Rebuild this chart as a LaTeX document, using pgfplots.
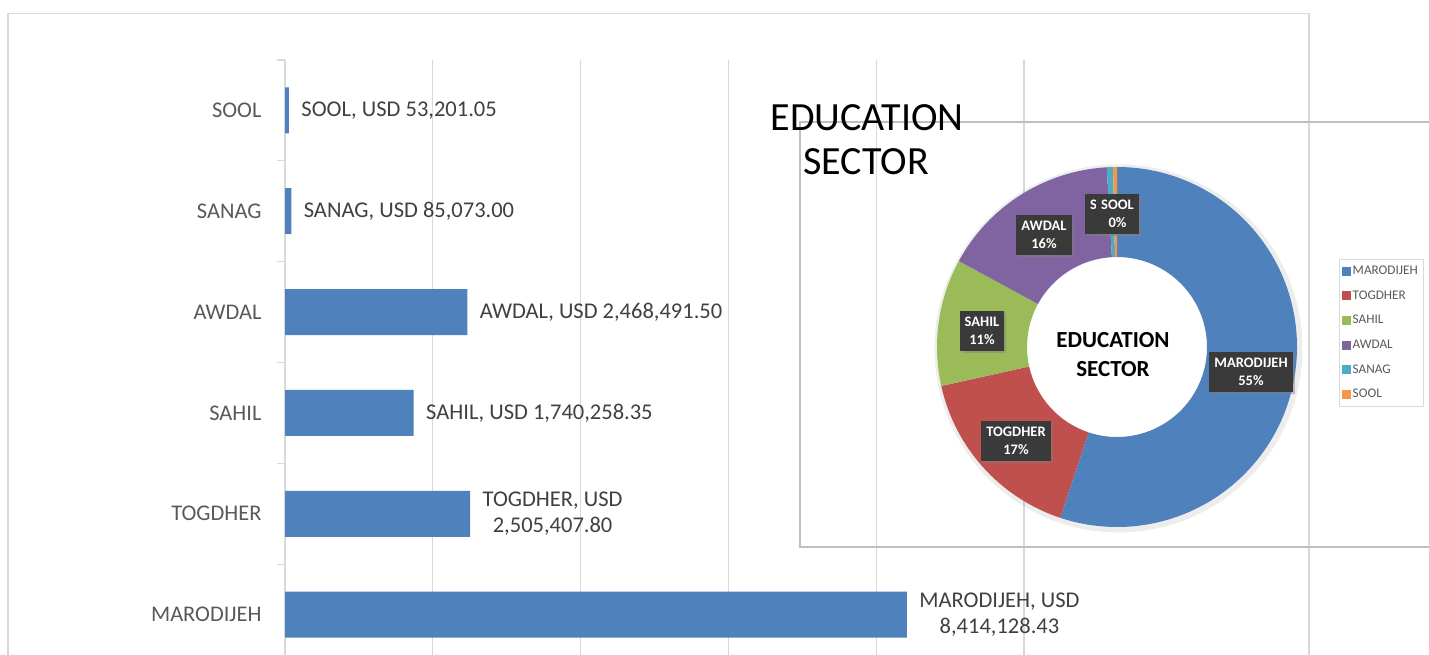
\documentclass[border=0pt]{standalone}
\usepackage{fontspec}
\setmainfont{Carlito}
\usepackage{pgfplots}
\pgfplotsset{compat=1.18}
\usetikzlibrary{shadows}
\definecolor{barblue}{HTML}{4F81BD}
\definecolor{cMar}{HTML}{4F81BD}
\definecolor{cTog}{HTML}{C0504D}
\definecolor{cSah}{HTML}{9BBB59}
\definecolor{cAwd}{HTML}{8064A2}
\definecolor{cSan}{HTML}{4BACC6}
\definecolor{cSoo}{HTML}{F79646}
\definecolor{gridgray}{HTML}{D9D9D9}
\definecolor{framegray}{HTML}{BFBFBF}
\definecolor{catgray}{HTML}{595959}
\definecolor{labgray}{HTML}{404040}
\definecolor{boxgray}{HTML}{3A3A3A}
% values (USD)
\def\vMar{8414128.43}
\def\vTog{2505407.80}
\def\vSah{1740258.35}
\def\vAwd{2468491.50}
\def\vSan{85073.00}
\def\vSoo{53201.05}
\edef\tot{\fpeval{\vMar+\vTog+\vSah+\vAwd+\vSan+\vSoo}}
\edef\aA{90}
\edef\aB{\fpeval{round(\aA-360*\vMar/\tot,4)}}
\edef\aC{\fpeval{round(\aB-360*\vTog/\tot,4)}}
\edef\aD{\fpeval{round(\aC-360*\vSah/\tot,4)}}
\edef\aE{\fpeval{round(\aD-360*\vAwd/\tot,4)}}
\edef\aF{\fpeval{round(\aE-360*\vSan/\tot,4)}}
\edef\aG{-270}
\newcommand\slice[3]{% color, start, end
  \fill[#1] (axis cs:0,0) ++(#2:180pt) arc[start angle=#2, end angle=#3, radius=180pt]
    -- ([shift={(#3:90pt)}]axis cs:0,0) arc[start angle=#3, end angle=#2, radius=90pt] -- cycle;}
\begin{document}
\begin{tikzpicture}[x=1pt,y=1pt]
\useasboundingbox (0,0) rectangle (1429,654);
\clip (0,0) rectangle (1429,654);
\fill[white] (0,0) rectangle (1429,654);
\draw[color=gridgray, line width=1.3pt] (8,640.5) rectangle (1309,-60);
\begin{axis}[
  at={(285pt,-11pt)}, anchor=south west,
  scale only axis, width=739pt, height=605pt,
  xmin=0, xmax=10000000, ymin=-0.5, ymax=5.5,
  axis x line*=bottom, axis y line*=left,
  axis line style={draw=gridgray, line width=1.3pt},
  xtick={0,2000000,4000000,6000000,8000000,10000000},
  xticklabels={}, xtick style={draw=none},
  xmajorgrids, grid style={draw=gridgray, line width=1.3pt},
  ytick={0.5,1.5,2.5,3.5,4.5,5.5}, yticklabels={},
  ytick style={draw=gridgray, line width=1.3pt},
  tick align=outside, major tick length=8pt,
  extra y ticks={0,1,2,3,4,5},
  extra y tick labels={MARODIJEH,TOGDHER,SAHIL,AWDAL,SANAG,SOOL},
  extra y tick style={major tick length=0pt},
  yticklabel style={font=\fontsize{22.4}{26}\selectfont, text=catgray, xshift=-20pt},
]
\addplot[xbar, fill=barblue, draw=none, bar width=46pt,
  nodes near coords, point meta=explicit symbolic,
  every node near coord/.append style={anchor=west, align=center,
    font=\fontsize{22.5}{26}\selectfont, text=labgray, xshift=9pt}]
coordinates {
(8414128.43,0) [{MARODIJEH, USD\\8,414,128.43}]
(2505407.80,1) [{TOGDHER, USD\\2,505,407.80}]
(1740258.35,2) [{SAHIL, USD 1,740,258.35}]
(2468491.50,3) [{AWDAL, USD 2,468,491.50}]
(85073.00,4) [{SANAG, USD 85,073.00}]
(53201.05,5) [{SOOL, USD 53,201.05}]
};
\end{axis}
% donut chart frame
\draw[color=framegray, line width=1.3pt] (1440,532) -- (800,532) -- (800,107) -- (1440,107);
\node[anchor=base, font=\fontsize{40}{44}\selectfont] at (867,523) {EDUCATION};
\node[anchor=base, font=\fontsize{40}{44}\selectfont] at (866,479) {SECTOR};
\begin{axis}[
  at={(1117pt,307pt)}, anchor=center,
  scale only axis, width=360pt, height=360pt,
  xmin=-1, xmax=1, ymin=-1, ymax=1, hide axis, clip=false,
  legend style={at={(1.117,0.744)}, anchor=north west, draw=gridgray,
    font=\fontsize{13.2}{15}\selectfont, text=catgray, row sep=9.7pt,
    nodes={text height=9pt, text depth=2pt, inner sep=2pt},
    inner ysep=4pt},
  legend cell align=left,
]
\fill[black, opacity=0.07, even odd rule] (axis cs:0.008,-0.008) circle[radius=184pt] circle[radius=170pt];
\slice{cMar}{\aA}{\aB}
\slice{cTog}{\aB}{\aC}
\slice{cSah}{\aC}{\aD}
\slice{cAwd}{\aD}{\aE}
\slice{cSan}{\aE}{\aF}
\slice{cSoo}{\aF}{\aG}
\addlegendimage{legend image code/.code={\fill[cMar] (0pt,-4pt) rectangle (8pt,4pt);}}
\addlegendentry{MARODIJEH}
\addlegendimage{legend image code/.code={\fill[cTog] (0pt,-4pt) rectangle (8pt,4pt);}}
\addlegendentry{TOGDHER}
\addlegendimage{legend image code/.code={\fill[cSah] (0pt,-4pt) rectangle (8pt,4pt);}}
\addlegendentry{SAHIL}
\addlegendimage{legend image code/.code={\fill[cAwd] (0pt,-4pt) rectangle (8pt,4pt);}}
\addlegendentry{AWDAL}
\addlegendimage{legend image code/.code={\fill[cSan] (0pt,-4pt) rectangle (8pt,4pt);}}
\addlegendentry{SANAG}
\addlegendimage{legend image code/.code={\fill[cSoo] (0pt,-4pt) rectangle (8pt,4pt);}}
\addlegendentry{SOOL}
\end{axis}
\node[anchor=base, font=\bfseries\fontsize{23}{26}\selectfont] at (1113,306) {EDUCATION};
\node[anchor=base, font=\bfseries\fontsize{23}{26}\selectfont] at (1113,277) {SECTOR};
\tikzset{lab/.style={fill=boxgray, text=white, font=\bfseries\fontsize{14.5}{18.5}\selectfont,
  align=center, inner xsep=5pt, inner ysep=6pt,
  drop shadow={opacity=0.45, shadow xshift=2pt, shadow yshift=-2pt}}}
\node[lab] at (1251,282) {MARODIJEH\\55\%};
\node[lab] at (1016,213) {TOGDHER\\17\%};
\node[lab] at (982,323) {SAHIL\\11\%};
\node[lab] at (1044,419) {AWDAL\\16\%};
\node[lab, anchor=west] at (1085,440) {SANAG\\1\%};
\node[lab, anchor=east] at (1139,440) {SOOL\\0\%};
\end{tikzpicture}
\end{document}
